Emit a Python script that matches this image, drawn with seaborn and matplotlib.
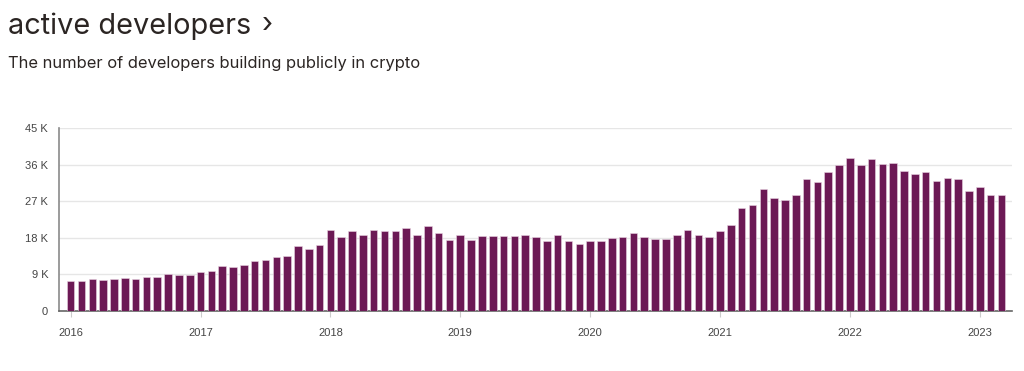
import matplotlib
matplotlib.use("Agg")
import matplotlib.pyplot as plt
import seaborn as sns
import pandas as pd

months = pd.date_range("2016-01-01", "2023-03-01", freq="MS").strftime("%Y-%m").tolist()
developers_k = [
    # 2016
    7.3, 7.4, 7.9, 7.7, 7.8, 8.0, 7.9, 8.3, 8.3, 9.2, 8.9, 8.9,
    # 2017
    9.6, 9.9, 11.1, 10.8, 11.3, 12.3, 12.6, 13.3, 13.6, 16.0, 15.3, 16.2,
    # 2018
    19.8, 18.1, 19.6, 18.7, 19.9, 19.6, 19.6, 20.4, 18.6, 21.0, 19.2, 17.5,
    # 2019
    18.8, 17.5, 18.5, 18.4, 18.4, 18.4, 18.7, 18.3, 17.3, 18.8, 17.3, 16.4,
    # 2020
    17.1, 17.2, 17.9, 18.3, 19.1, 18.3, 17.8, 17.7, 18.8, 19.9, 18.6, 18.2,
    # 2021
    19.7, 21.1, 25.4, 26.1, 29.9, 27.7, 27.4, 28.5, 32.4, 31.8, 34.1, 35.8,
    # 2022
    37.6, 36.0, 37.4, 36.1, 36.3, 34.4, 33.7, 34.2, 32.0, 32.8, 32.4, 29.6,
    # 2023
    30.4, 28.6, 28.5,
]
year_labels = ["2016", "2017", "2018", "2019", "2020", "2021", "2022", "2023"]
y_ticks_k = [0, 9, 18, 27, 36, 45]
y_tick_labels = ["0", "9 K", "18 K", "27 K", "36 K", "45 K"]

sns.set_theme(style="white")
plt.rcParams["font.family"] = ["Liberation Sans", "DejaVu Sans"]

fig = plt.figure(figsize=(10.24, 3.71), dpi=100)
ax = fig.add_axes([59.3 / 1024, 1 - 311 / 371, (1011.7 - 59.3) / 1024, (311 - 128) / 371])

df = pd.DataFrame({"month": months, "developers": developers_k})
sns.barplot(data=df, x="month", y="developers", color="#6c1955", saturation=1,
            width=0.7, edgecolor="#e9d3e2", linewidth=0.4, ax=ax, zorder=3)

ax.set_xlim(-1.05, len(months) - 1 + 0.95)
ax.set_ylim(0, 45)
ax.set_yticks(y_ticks_k)
ax.set_yticklabels(y_tick_labels)
ax.set_xticks([12 * i for i in range(len(year_labels))])
ax.set_xticklabels(year_labels)
ax.set_xlabel("")
ax.set_ylabel("")

ax.yaxis.grid(True, color="#e6e6e6", linewidth=1, zorder=0)
ax.xaxis.grid(False)
for side in ["top", "right"]:
    ax.spines[side].set_visible(False)
ax.spines["left"].set_color("#8a8a8a")
ax.spines["left"].set_linewidth(1.2)
ax.spines["bottom"].set_color("#666666")
ax.spines["bottom"].set_linewidth(1.2)

ax.tick_params(axis="y", length=0, pad=8, labelsize=8, labelcolor="#444444")
ax.tick_params(axis="x", length=4, width=0.8, color="#cccccc", pad=8,
               labelsize=8, labelcolor="#444444", bottom=True)

fig.text(8 / 1024, 1 - 34 / 371, "active developers", fontsize=20.8,
         color="#2b2523", family=["Inter", "DejaVu Sans"], va="baseline")
fig.text(262 / 1024, 1 - 33 / 371, "›", fontsize=20.8,
         color="#2b2523", family=["Inter", "DejaVu Sans"], va="baseline")
fig.text(8 / 1024, 1 - 68 / 371, "The number of developers building publicly in crypto",
         fontsize=11.9, color="#2b2523", family=["Inter", "DejaVu Sans"], va="baseline")

fig.savefig("out.png", dpi=100, facecolor="white")
